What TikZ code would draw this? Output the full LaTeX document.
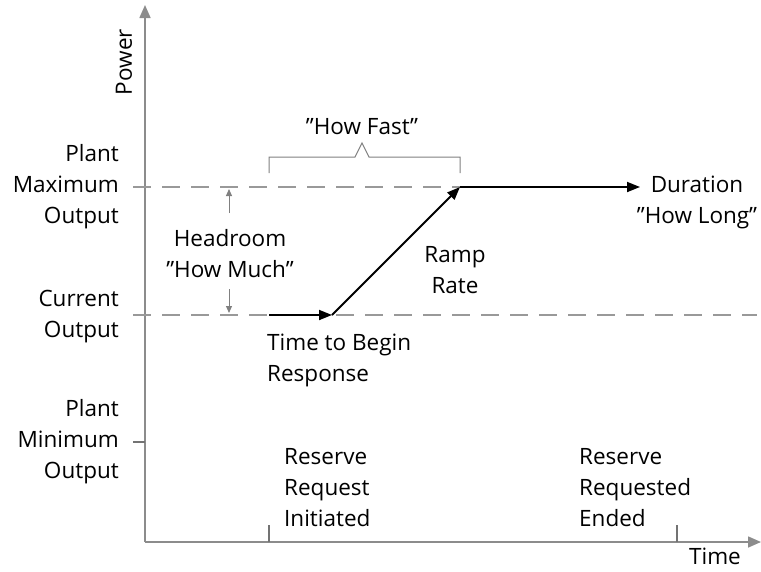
\documentclass[tikz,border=0pt]{standalone}
\usepackage{fontspec}
\setmainfont{Open Sans}
\usetikzlibrary{arrows.meta,positioning}

\begin{document}
\begin{tikzpicture}[x=1pt, y=-1pt, font=\fontsize{22.5}{31}\selectfont, inner sep=0pt,
  axis/.style={draw=black!45, line width=1.6pt},
  guide/.style={draw=black!40, line width=1.2pt, dash pattern=on 18pt off 11pt},
  tick/.style={draw=black!55, line width=1.3pt},
  brace/.style={draw=black!50, line width=1pt},
  resp/.style={draw=black, line width=1.8pt, -{Triangle[length=13pt,width=10pt]}},
  gap/.style={draw=black!50, line width=1pt, -{Triangle[length=7pt,width=6pt]}}]
  \useasboundingbox (0,0) rectangle (761,571);
  % axes
  \coordinate (O) at (145,542);
  \coordinate (ytop) at (145,5);
  \coordinate (xend) at (761,542);
  \draw[axis, -{Triangle[length=13pt,width=11pt]}] (O) -- (ytop);
  \draw[axis, -{Triangle[length=13pt,width=11pt]}] (O) -- (xend);
  \node[rotate=90] (power) at (124,62) {Power};
  \node (time) at (715,556) {Time};
  % levels
  \coordinate (maxL) at (133,187);
  \coordinate (maxR) at (460,187);
  \coordinate (curL) at (133,315);
  \coordinate (curR) at (757,315);
  \coordinate (minL) at (133,442);
  \draw[guide] (maxL) -- (maxR);
  \draw[guide] (curL) -- (curR);
  \draw[tick] (minL) -- (O |- minL);
  \node[anchor=east, align=right] (maxlbl) at (119,187) {Plant\\Maximum\\Output};
  \node[anchor=east, align=right] (curlbl) at (119,317) {Current\\Output};
  \node[anchor=east, align=right] (minlbl) at (119,442) {Plant\\Minimum\\Output};
  % time ticks
  \coordinate (t1) at (269,542);
  \coordinate (t2) at (677,542);
  \draw[tick] (t1) -- ++(0,-17);
  \draw[tick] (t2) -- ++(0,-17);
  \node[anchor=south west, align=left] (init) at (284,527) {Reserve\\Request\\Initiated};
  \node[anchor=south west, align=left] (ended) at (579,527) {Reserve\\Requested\\Ended};
  % response
  \coordinate (start) at (269,315);
  \coordinate (begin) at (332,315);
  \coordinate (dur) at (640,187);
  \draw[resp] (start) -- (begin);
  \draw[resp] (begin) -- (maxR);
  \draw[resp] (maxR) -- (dur);
  \node[anchor=west, align=left] (delay) at (267,360) {Time to Begin\\Response};
  \node[align=center] (ramp) at (455,270) {Ramp\\Rate};
  \node[align=center] (duration) at (697,202) {Duration\\”How Long”};
  % headroom
  \node[align=center] (head) at (230,254) {Headroom\\”How Much”};
  \draw[gap] (229,213) -- (229,189);
  \draw[gap] (229,289) -- (229,313);
  % how fast
  \draw[brace] (269,173) |- (355,157) -- (362,143) -- (369,157) -| (460,173);
  \node (fast) at (362,127) {”How Fast”};
\end{tikzpicture}
\end{document}
